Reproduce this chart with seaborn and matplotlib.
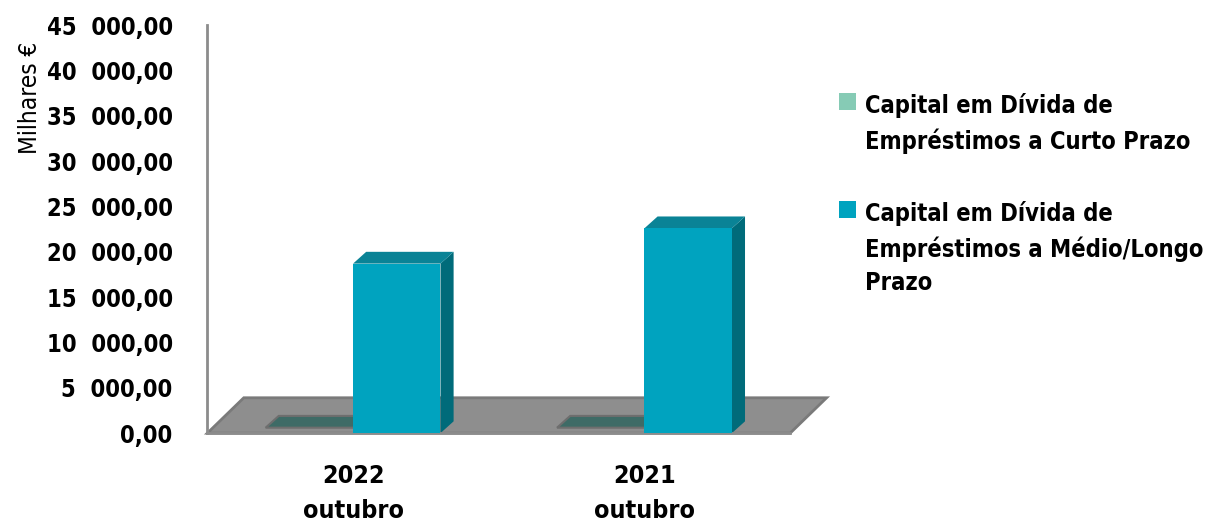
import seaborn as sns
import matplotlib.pyplot as plt
import pandas as pd
from matplotlib import font_manager as fm
from matplotlib.patches import Polygon
from matplotlib.ticker import FuncFormatter

# dados
periodos = ['2022\noutubro', '2021\noutubro']
series = ['Capital em Dívida de\nEmpréstimos a Curto Prazo',
          'Capital em Dívida de\nEmpréstimos a Médio/Longo\nPrazo']
curto_prazo = [0, 0]
medio_longo_prazo = [18700, 22600]
yticks = list(range(0, 45001, 5000))

df = pd.DataFrame({
    'periodo': periodos * 2,
    'serie': [series[0]] * 2 + [series[1]] * 2,
    'valor': curto_prazo + medio_longo_prazo,
})


# procurar uma letra estreita (tipo Arial Narrow)
def fonte_estreita():
    lista = fm.fontManager.ttflist
    if any(f.name == 'Liberation Sans Narrow' for f in lista):
        return 'Liberation Sans Narrow', 'normal', 1.1
    if any(f.name == 'DejaVu Sans' and 'condensed' in str(f.stretch) for f in lista):
        return 'DejaVu Sans', 'condensed', 1.0
    return 'Liberation Sans', 'normal', 1.0


familia, esticar, k = fonte_estreita()

sns.set_style('white')
plt.rcParams['font.family'] = [familia, 'Liberation Sans', 'DejaVu Sans']
plt.rcParams['font.stretch'] = esticar
plt.rcParams['text.color'] = 'black'
plt.rcParams['xtick.labelcolor'] = 'black'
plt.rcParams['ytick.labelcolor'] = 'black'

cores = {series[0]: '#86CBB5', series[1]: '#00A3BF'}
lados = {series[0]: '#3E6B66', series[1]: '#006B7A'}
topos = {series[0]: '#3E6B66', series[1]: '#0A8396'}

fig = plt.figure(figsize=(12.27, 5.25), dpi=100)
ax = fig.add_axes([0.169, 0.175, 0.475, 0.777])

sns.barplot(data=df, x='periodo', y='valor', hue='serie', palette=cores,
            width=0.6, saturation=1, linewidth=0, edgecolor='none', ax=ax)

ax.set_xlim(-0.5, 1.5)
ax.set_ylim(0, 45000)

# chão cinzento em perspetiva
dx, dy = 0.045, 1300
fx, fy = 0.125, 3900
xl = ax.get_xlim()
chao = Polygon([(xl[0], 0), (xl[1], 0), (xl[1] + fx, fy), (xl[0] + fx, fy)],
               closed=True, facecolor='#8E8E8E', edgecolor='#7A7A7A', lw=2,
               zorder=0.5, clip_on=False)
ax.add_patch(chao)

# faces laterais e de topo das colunas
for serie, cont in zip(series, ax.containers):
    for p in cont:
        x0 = p.get_x()
        x1 = x0 + p.get_width()
        h = p.get_height()
        if h <= 0:
            base = Polygon([(x0, 600), (x1, 600), (x1 + dx, 600 + dy),
                            (x0 + dx, 600 + dy)], closed=True,
                           facecolor=lados[serie], edgecolor='#6E6E6E', lw=1.5,
                           zorder=1)
            ax.add_patch(base)
            continue
        lado = Polygon([(x1, 0), (x1 + dx, dy), (x1 + dx, h + dy), (x1, h)],
                       closed=True, facecolor=lados[serie], edgecolor='none',
                       zorder=2)
        topo = Polygon([(x0, h), (x0 + dx, h + dy), (x1 + dx, h + dy), (x1, h)],
                       closed=True, facecolor=topos[serie], edgecolor='none',
                       zorder=2)
        ax.add_patch(lado)
        ax.add_patch(topo)
        p.set_zorder(3)

# eixos
for s in ['top', 'right']:
    ax.spines[s].set_visible(False)
for s in ['left', 'bottom']:
    ax.spines[s].set_color('#8C8C8C')
    ax.spines[s].set_linewidth(2)

ax.set_yticks(yticks)
ax.yaxis.set_major_formatter(FuncFormatter(
    lambda v, pos: f'{v:,.2f}'.replace(',', '  ').replace('.', ',')))
ax.set_xticks([-0.5, 0.5, 1.5], minor=False)
ax.set_xticklabels([])
ax.set_xticks([0, 1], minor=True)
ax.set_xticklabels(periodos, minor=True, fontsize=18 * k, fontweight='bold',
                   linespacing=1.6)
ax.tick_params(axis='x', which='minor', length=0, pad=22)
ax.tick_params(axis='x', which='major', length=10, width=2, color='#8C8C8C',
               direction='out')
ax.tick_params(axis='y', length=7, width=2, color='#8C8C8C', direction='out',
               labelsize=17 * k, pad=18)
for t in ax.get_yticklabels():
    t.set_fontweight('bold')
ax.set_xlabel('')
ax.set_ylabel('')

fig.text(30 / 1227, 1 - 98 / 525, 'Milhares €', rotation=90,
         fontsize=17.5 * k, ha='center', va='center')

leg = ax.legend(loc='upper left', bbox_to_anchor=(818 / 1227, 1 - 72 / 525),
                bbox_transform=fig.transFigure, frameon=False,
                fontsize=17 * k, handlelength=0.7, handleheight=0.7,
                handletextpad=0.4, labelspacing=2.0, title=None)
for t in leg.get_texts():
    t.set_fontweight('bold')
    t.set_linespacing(1.5)
# marcador ao lado da primeira linha do texto
for coluna in leg._legend_handle_box.get_children():
    for item in coluna.get_children():
        item.align = 'top'

fig.savefig('out.png', dpi=100)
